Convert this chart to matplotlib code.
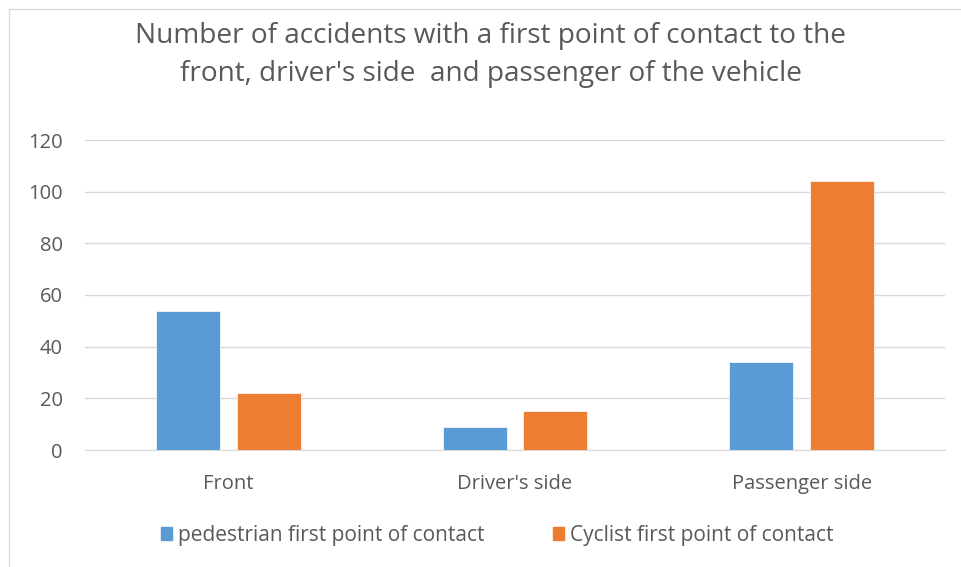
import matplotlib
matplotlib.use("Agg")
import matplotlib.pyplot as plt
import numpy as np
from matplotlib.patches import Rectangle, Patch

categories = ["Front", "Driver's side", "Passenger side"]
pedestrian = [54, 9, 34]
cyclist = [22, 15, 104]
series_names = ["pedestrian first point of contact", "Cyclist first point of contact"]
yticks = [0, 20, 40, 60, 80, 100, 120]

plt.rcParams['font.family'] = ['Open Sans', 'DejaVu Sans']
txt = '#595959'
blue = '#5B9BD5'
orange = '#ED7D31'

fig = plt.figure(figsize=(9.62, 5.67), dpi=100)
fig.patches.append(Rectangle((9/962, -0.1), 1.1, 1 - 9/567 + 0.1, transform=fig.transFigure,
                             fill=False, edgecolor='#D9D9D9', linewidth=1))
ax = fig.add_axes([85/962, 1 - 450/567, 860/962, 310/567])
x = np.arange(len(categories))
w = 0.223
off = 0.141
ax.bar(x - off, pedestrian, w, color=blue, edgecolor='white', linewidth=0.5, zorder=3)
ax.bar(x + off, cyclist, w, color=orange, edgecolor='white', linewidth=0.5, zorder=3)
ax.set_xlim(-0.5, 2.5)
ax.set_ylim(0, 120)
ax.set_yticks(yticks)
ax.set_xticks(x)
ax.set_xticklabels(categories)
ax.grid(axis='y', color='#D9D9D9', linewidth=1, zorder=0)
for s in ['top', 'right', 'left']:
    ax.spines[s].set_visible(False)
ax.spines['bottom'].set_color('#D9D9D9')
ax.tick_params(axis='both', length=0, colors=txt, labelsize=14.5)
ax.tick_params(axis='y', pad=16)
ax.tick_params(axis='x', pad=17)

fig.text(491/962, 1 - 55/567, "Number of accidents with a first point of contact to the\nfront, driver's side  and passenger of the vehicle",
         ha='center', va='center', fontsize=20.2, color=txt, linespacing=1.5)

handles = [Patch(color=blue), Patch(color=orange)]
fig.legend(handles, series_names, loc='center', bbox_to_anchor=(497/962, 1 - 535/567), ncol=2,
           frameon=False, fontsize=15, labelcolor=txt, handlelength=0.55, handleheight=0.6,
           handletextpad=0.25, columnspacing=3.3)

fig.savefig("out.png", dpi=100)
